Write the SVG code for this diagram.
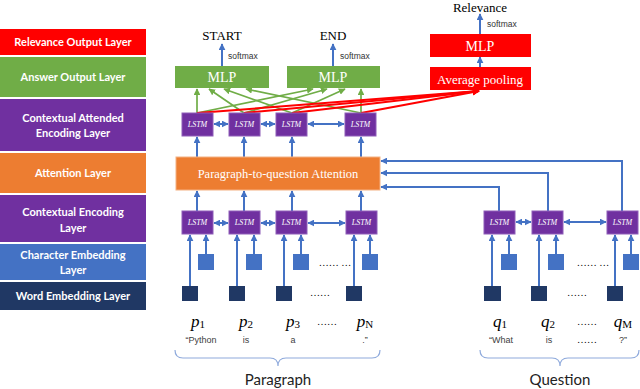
<svg xmlns="http://www.w3.org/2000/svg" width="640" height="389" viewBox="0 0 640 389">
<style>
.lay{font-family:Lato,"Open Sans",sans-serif;font-weight:bold;font-size:11px;fill:#fff;text-anchor:middle}
.lstm{fill:#7030A0;stroke:#8E5DB8;stroke-width:1}
.lt{font-family:"Liberation Serif",serif;font-style:italic;font-size:8px;fill:#fff;text-anchor:middle}
.ser{font-family:"Liberation Serif",serif;text-anchor:middle}
.sm{font-family:"Liberation Sans",sans-serif;font-size:8.5px;fill:#333}
.wd{font-family:"Liberation Sans",sans-serif;font-size:9px;fill:#404040;text-anchor:middle}
.var{font-family:"Liberation Serif",serif;font-style:italic;font-size:17px;fill:#000;text-anchor:middle}
.sub{font-style:normal;font-size:11px}
.dots{font-family:"Liberation Serif",serif;font-size:10px;fill:#000;text-anchor:middle}
.ce{fill:#4472C4}
.we{fill:#203864}
.b{stroke:#4472C4;stroke-width:2;fill:none;marker-end:url(#ab)}
.bb{stroke:#4472C4;stroke-width:2;fill:none;marker-end:url(#ab);marker-start:url(#ab)}
.g{stroke:#70AD47;stroke-width:1.7;fill:none;marker-end:url(#ag)}
.r{stroke:#FF0000;stroke-width:2;fill:none;marker-end:url(#ar)}
.brace{stroke:#8FAADC;stroke-width:1.2;fill:none}
</style>
<defs>
<marker id="ab" viewBox="0 0 10 10" refX="9" refY="5" markerWidth="3.5" markerHeight="3.5" orient="auto-start-reverse"><path d="M0,0L10,5L0,10z" fill="#4472C4"/></marker>
<marker id="ag" viewBox="0 0 10 10" refX="9" refY="5" markerWidth="4" markerHeight="4" orient="auto"><path d="M0,0L10,5L0,10z" fill="#70AD47"/></marker>
<marker id="ar" viewBox="0 0 10 10" refX="9" refY="5" markerWidth="3.5" markerHeight="3.5" orient="auto"><path d="M0,0L10,5L0,10z" fill="#FF0000"/></marker>
</defs>
<rect width="640" height="389" fill="#fff"/>

<g id="layers">
<rect x="0" y="29" width="146" height="26" fill="#FF0000"/>
<text class="lay" x="73" y="46">Relevance Output Layer</text>
<rect x="0" y="57" width="146" height="40" fill="#70AD47"/>
<text class="lay" x="73" y="81">Answer Output Layer</text>
<rect x="0" y="99" width="146" height="52" fill="#7030A0"/>
<text class="lay" x="73" y="122">Contextual Attended</text>
<text class="lay" x="73" y="137">Encoding Layer</text>
<rect x="0" y="153" width="146" height="40" fill="#ED7D31"/>
<text class="lay" x="73" y="177">Attention Layer</text>
<rect x="0" y="195" width="146" height="47" fill="#7030A0"/>
<text class="lay" x="73" y="216">Contextual Encoding</text>
<text class="lay" x="73" y="232">Layer</text>
<rect x="0" y="244" width="146" height="36" fill="#4472C4"/>
<text class="lay" x="73" y="259">Character Embedding</text>
<text class="lay" x="73" y="274">Layer</text>
<rect x="0" y="282" width="146" height="28" fill="#203864"/>
<text class="lay" x="73" y="300">Word Embedding Layer</text>
</g>

<g id="connectors">
<line class="b" x1="222" y1="66" x2="222" y2="44"/>
<line class="b" x1="333" y1="66" x2="333" y2="44"/>
<line class="b" x1="480" y1="34" x2="480" y2="14"/>
<line class="b" x1="480" y1="67" x2="480" y2="57"/>
<line class="g" x1="197" y1="113" x2="197" y2="89"/>
<line class="g" x1="244" y1="113" x2="209" y2="89"/>
<line class="g" x1="292" y1="113" x2="224" y2="89"/>
<line class="g" x1="361" y1="113" x2="246" y2="89"/>
<line class="g" x1="197" y1="113" x2="313" y2="89"/>
<line class="g" x1="244" y1="113" x2="327" y2="89"/>
<line class="g" x1="292" y1="113" x2="345" y2="89"/>
<line class="g" x1="361" y1="113" x2="361" y2="89"/>
<line class="r" x1="197" y1="113" x2="479" y2="91"/>
<line class="r" x1="244" y1="113" x2="479" y2="91"/>
<line class="r" x1="292" y1="113" x2="479" y2="91"/>
<line class="r" x1="361" y1="113" x2="479" y2="91"/>
<line class="b" x1="197" y1="157" x2="197" y2="137"/>
<line class="b" x1="244" y1="157" x2="244" y2="137"/>
<line class="b" x1="292" y1="157" x2="292" y2="137"/>
<line class="b" x1="361" y1="157" x2="361" y2="137"/>
<line class="bb" x1="214" y1="124" x2="228" y2="124"/>
<line class="bb" x1="261" y1="124" x2="275" y2="124"/>
<line class="bb" x1="308" y1="124" x2="344" y2="124"/>
<line class="b" x1="197" y1="211" x2="197" y2="191"/>
<line class="b" x1="244" y1="211" x2="244" y2="191"/>
<line class="b" x1="292" y1="211" x2="292" y2="191"/>
<line class="b" x1="361" y1="211" x2="361" y2="191"/>
<line class="bb" x1="214" y1="223" x2="228" y2="223"/>
<line class="bb" x1="261" y1="223" x2="275" y2="223"/>
<line class="bb" x1="308" y1="223" x2="345" y2="223"/>
<line class="b" x1="190" y1="286" x2="190" y2="235"/>
<line class="b" x1="206" y1="254" x2="206" y2="235"/>
<line class="b" x1="237" y1="286" x2="237" y2="235"/>
<line class="b" x1="254" y1="254" x2="254" y2="235"/>
<line class="b" x1="284" y1="286" x2="284" y2="235"/>
<line class="b" x1="301" y1="254" x2="301" y2="235"/>
<line class="b" x1="354" y1="286" x2="354" y2="235"/>
<line class="b" x1="370" y1="254" x2="370" y2="235"/>
<line class="b" x1="492" y1="286" x2="492" y2="235"/>
<line class="b" x1="509" y1="254" x2="509" y2="235"/>
<line class="b" x1="539" y1="286" x2="539" y2="235"/>
<line class="b" x1="556" y1="254" x2="556" y2="235"/>
<line class="b" x1="615" y1="286" x2="615" y2="235"/>
<line class="b" x1="631" y1="254" x2="631" y2="235"/>
<line class="bb" x1="516" y1="222" x2="531" y2="222"/>
<line class="bb" x1="564" y1="222" x2="606" y2="222"/>
<polyline class="b" points="499,211 499,187 381,187"/>
<polyline class="b" points="548,211 548,173 381,173"/>
<polyline class="b" points="622,211 622,161 381,161"/>
</g>

<g id="start-label"><text class="ser" x="222" y="40" font-size="13">START</text><text class="sm" x="228" y="59">softmax</text></g>
<g id="end-label"><text class="ser" x="333" y="40" font-size="13">END</text><text class="sm" x="340" y="59">softmax</text></g>
<g id="relevance-label"><text class="ser" x="480" y="12" font-size="13">Relevance</text><text class="sm" x="487" y="27">softmax</text></g>

<g id="mlp-start"><rect x="175" y="66" width="94" height="22" fill="#70AD47"/><text class="ser" x="222" y="82" font-size="14" fill="#fff">MLP</text></g>
<g id="mlp-end"><rect x="287" y="66" width="93" height="22" fill="#70AD47"/><text class="ser" x="333" y="82" font-size="14" fill="#fff">MLP</text></g>
<g id="mlp-rel"><rect x="430" y="34" width="101" height="23" fill="#FF0000"/><text class="ser" x="480" y="51" font-size="14" fill="#fff">MLP</text></g>
<g id="avg-pool"><rect x="430" y="67" width="101" height="23" fill="#FF0000"/><text class="ser" x="480" y="84" font-size="13" fill="#fff">Average pooling</text></g>

<g id="up-lstm1"><rect class="lstm" x="182" y="113" width="31" height="23"/><text class="lt" x="197.5" y="127">LSTM</text></g>
<g id="up-lstm2"><rect class="lstm" x="229" y="113" width="31" height="23"/><text class="lt" x="244.5" y="127">LSTM</text></g>
<g id="up-lstm3"><rect class="lstm" x="276" y="113" width="31" height="23"/><text class="lt" x="291.5" y="127">LSTM</text></g>
<g id="up-lstm4"><rect class="lstm" x="345" y="113" width="31" height="23"/><text class="lt" x="360.5" y="127">LSTM</text></g>

<g id="attention"><rect x="176" y="157" width="204" height="33" fill="#ED7D31" stroke="#F4B183" stroke-width="1"/><text class="ser" x="278" y="178" font-size="12.5" fill="#fff">Paragraph-to-question Attention</text></g>

<g id="p-lstm1"><rect class="lstm" x="182" y="211" width="31" height="23"/><text class="lt" x="197.5" y="225">LSTM</text></g>
<g id="p-lstm2"><rect class="lstm" x="229" y="211" width="31" height="23"/><text class="lt" x="244.5" y="225">LSTM</text></g>
<g id="p-lstm3"><rect class="lstm" x="276" y="211" width="31" height="23"/><text class="lt" x="291.5" y="225">LSTM</text></g>
<g id="p-lstm4"><rect class="lstm" x="346" y="211" width="31" height="23"/><text class="lt" x="361.5" y="225">LSTM</text></g>

<g id="q-lstm1"><rect class="lstm" x="484" y="211" width="31" height="23"/><text class="lt" x="499.5" y="225">LSTM</text></g>
<g id="q-lstm2"><rect class="lstm" x="532" y="211" width="31" height="23"/><text class="lt" x="547.5" y="225">LSTM</text></g>
<g id="q-lstm3"><rect class="lstm" x="607" y="211" width="31" height="23"/><text class="lt" x="622.5" y="225">LSTM</text></g>

<g id="p-char">
<rect class="ce" x="198" y="254" width="16" height="16"/>
<rect class="ce" x="246" y="254" width="16" height="16"/>
<rect class="ce" x="293" y="254" width="16" height="16"/>
<rect class="ce" x="362" y="254" width="16" height="16"/>
<text class="dots" x="335" y="266">…… …</text>
</g>
<g id="q-char">
<rect class="ce" x="501" y="254" width="16" height="16"/>
<rect class="ce" x="548" y="254" width="16" height="16"/>
<rect class="ce" x="623" y="254" width="16" height="16"/>
<text class="dots" x="593" y="266">…… …</text>
</g>
<g id="p-word">
<rect class="we" x="182" y="286" width="16" height="15"/>
<rect class="we" x="229" y="286" width="16" height="15"/>
<rect class="we" x="276" y="286" width="16" height="15"/>
<rect class="we" x="346" y="286" width="16" height="15"/>
<text class="dots" x="320" y="296">……</text>
</g>
<g id="q-word">
<rect class="we" x="484" y="286" width="17" height="15"/>
<rect class="we" x="531" y="286" width="16" height="15"/>
<rect class="we" x="607" y="286" width="16" height="15"/>
<text class="dots" x="577" y="296">……</text>
</g>

<g id="paragraph">
<text class="var" x="198" y="327">p<tspan class="sub" dy="1">1</tspan></text>
<text class="var" x="246" y="327">p<tspan class="sub" dy="1">2</tspan></text>
<text class="var" x="293" y="327">p<tspan class="sub" dy="1">3</tspan></text>
<text class="dots" x="327" y="325">……</text>
<text class="var" x="365" y="327">p<tspan class="sub" font-style="italic" dy="1">N</tspan></text>
<text class="wd" x="201" y="343">“Python</text>
<text class="wd" x="246" y="343">is</text>
<text class="wd" x="293" y="343">a</text>
<text class="wd" x="365" y="343">.”</text>
<path class="brace" d="M175,350 Q175,358 183,358 L270,358 Q278,358 278,366 Q278,358 286,358 L372,358 Q380,358 380,350"/>
<text x="278" y="385" font-family="Lato,'Open Sans',sans-serif" font-size="15" fill="#222" text-anchor="middle">Paragraph</text>
</g>

<g id="question">
<text class="var" x="500" y="327">q<tspan class="sub" dy="1">1</tspan></text>
<text class="var" x="548" y="327">q<tspan class="sub" dy="1">2</tspan></text>
<text class="dots" x="587" y="325">……</text>
<text class="var" x="623" y="327">q<tspan class="sub" font-style="italic" dy="1">M</tspan></text>
<text class="wd" x="501" y="343">“What</text>
<text class="wd" x="549" y="343">is</text>
<text class="dots" x="587" y="343">……</text>
<text class="wd" x="623" y="343">?”</text>
<path class="brace" d="M480,350 Q480,358 488,358 L552,358 Q560,358 560,366 Q560,358 568,358 L631,358 Q639,358 639,350"/>
<text x="560" y="385" font-family="Lato,'Open Sans',sans-serif" font-size="15" fill="#222" text-anchor="middle">Question</text>
</g>
</svg>
